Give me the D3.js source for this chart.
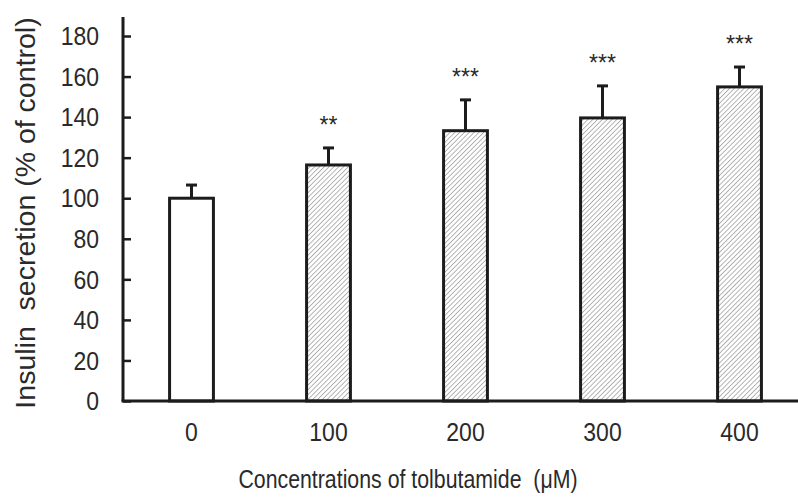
<!DOCTYPE html>
<html>
<head>
<meta charset="utf-8">
<script src="https://cdn.jsdelivr.net/npm/d3@7"></script>
<style>
  html, body { margin: 0; padding: 0; background: #fff; }
  svg { display: block; font-family: "Liberation Sans", Arial, sans-serif; }
</style>
</head>
<body>
<svg id="chart" width="798" height="497"></svg>
<script>
// Insulin secretion vs. tolbutamide concentration
const categories = ["0", "100", "200", "300", "400"];
const means = [100, 116.4, 133.3, 139.6, 154.9];
const errors = [6.5, 8.4, 15.2, 15.8, 9.8];
const significance = ["", "**", "***", "***", "***"];
const yTicks = [0, 20, 40, 60, 80, 100, 120, 140, 160, 180];

(function () {
  const svg = d3.select("#chart");
  const W = 798;
  const mLeft = 123, mBottom = 401, mTop = 36;
  const ink = "#1c1c1c";
  const textInk = "#2a2a2a";

  const x = d3.scaleBand().domain(categories).range([mLeft, 808]).paddingInner(0.68).paddingOuter(0.34);
  const y = d3.scaleLinear().domain([0, 180]).range([mBottom, mTop]);

  // narrow text: positioned at (tx, ty), squeezed horizontally by sx
  function label(g, tx, ty, str, size, sx, anchor) {
    return g.append("text")
      .attr("transform", `translate(${tx},${ty}) scale(${sx},1)`)
      .attr("text-anchor", anchor || "middle")
      .attr("font-size", size)
      .attr("fill", textInk)
      .attr("xml:space", "preserve")
      .text(str);
  }

  const defs = svg.append("defs");
  const pat = defs.append("pattern")
    .attr("id", "hatch")
    .attr("patternUnits", "userSpaceOnUse")
    .attr("width", 3.4).attr("height", 3.4)
    .attr("patternTransform", "rotate(45)");
  pat.append("rect").attr("width", 3.4).attr("height", 3.4).attr("fill", "#fff");
  pat.append("line").attr("x1", 0).attr("y1", 0).attr("x2", 0).attr("y2", 3.4)
    .attr("stroke", "#7a7a7a").attr("stroke-width", 1.1);

  // bars
  svg.append("g").selectAll("rect")
    .data(categories)
    .join("rect")
    .attr("x", d => x(d))
    .attr("y", (d, i) => y(means[i]))
    .attr("width", x.bandwidth())
    .attr("height", (d, i) => y(0) - y(means[i]))
    .attr("fill", (d, i) => i === 0 ? "#fff" : "url(#hatch)")
    .attr("stroke", ink)
    .attr("stroke-width", 3);

  // error bars (upper only)
  const eb = svg.append("g").attr("stroke", ink).attr("stroke-width", 3);
  categories.forEach((c, i) => {
    const cx = x(c) + x.bandwidth() / 2;
    eb.append("line").attr("x1", cx).attr("x2", cx)
      .attr("y1", y(means[i])).attr("y2", y(means[i] + errors[i]));
    eb.append("line").attr("x1", cx - 5.5).attr("x2", cx + 5.5)
      .attr("y1", y(means[i] + errors[i])).attr("y2", y(means[i] + errors[i]));
  });

  // significance markers
  const sig = svg.append("g");
  categories.forEach((c, i) => {
    if (!significance[i]) return;
    label(sig, x(c) + x.bandwidth() / 2, y(means[i] + errors[i]) - 15, significance[i], 23, 1);
  });

  // y axis
  const yAxis = svg.append("g").attr("transform", `translate(${mLeft},0)`)
    .call(d3.axisRight(y).tickValues(yTicks).tickSize(8).tickFormat(d3.format("d")));
  yAxis.select(".domain").remove();
  yAxis.selectAll(".tick line").attr("stroke", ink).attr("stroke-width", 2.5);
  const ySx = 0.92;
  yAxis.selectAll(".tick text")
    .attr("transform", `scale(${ySx},1)`)
    .attr("x", -24 / ySx).attr("dy", "0.35em").attr("text-anchor", "end")
    .attr("font-size", 25).attr("fill", textInk)
    .attr("font-family", "Liberation Sans, Arial, sans-serif");
  svg.append("line").attr("x1", mLeft).attr("x2", mLeft).attr("y1", 17).attr("y2", mBottom)
    .attr("stroke", ink).attr("stroke-width", 3);

  // x axis
  svg.append("line").attr("x1", mLeft - 1.5).attr("x2", W).attr("y1", mBottom).attr("y2", mBottom)
    .attr("stroke", ink).attr("stroke-width", 3);
  const xl = svg.append("g");
  categories.forEach(c => label(xl, x(c) + x.bandwidth() / 2, 441, c, 25, 0.92));

  // axis titles
  label(svg, 408, 488, "Concentrations of tolbutamide  (μM)", 26, 0.82);
  svg.append("text")
    .attr("transform", "translate(35,213) rotate(-90)")
    .attr("text-anchor", "middle")
    .attr("font-size", 28.5).attr("fill", textInk)
    .attr("xml:space", "preserve")
    .text("Insulin  secretion (% of control)");
})();
</script>
</body>
</html>
